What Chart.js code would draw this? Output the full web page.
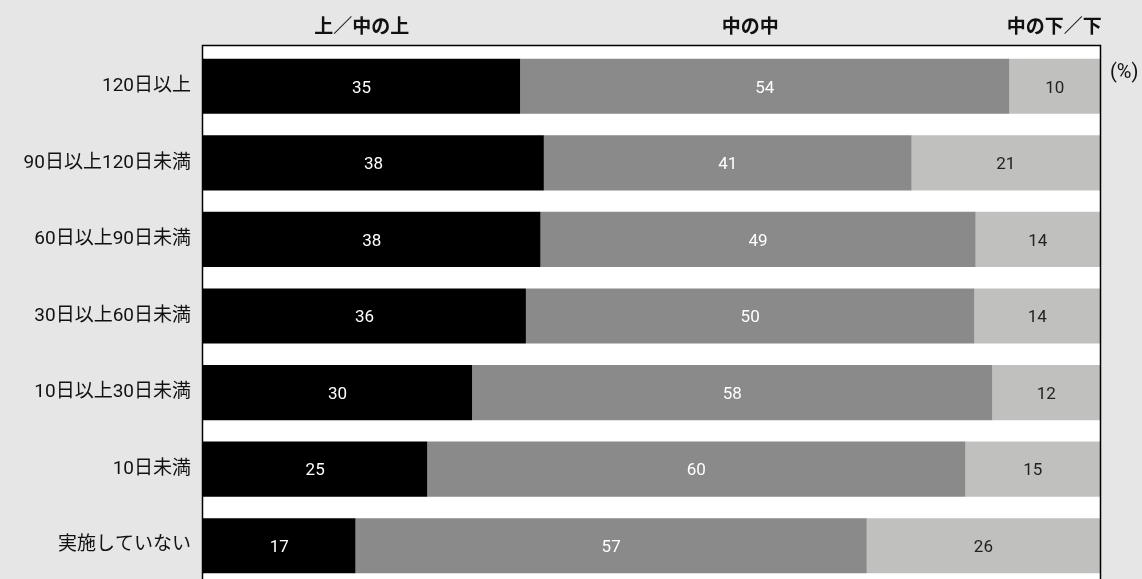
<!DOCTYPE html>
<html>
<head>
<meta charset="utf-8">
<script src="https://cdn.jsdelivr.net/npm/chart.js@4/dist/chart.umd.min.js"></script>
<style>
  html, body { margin: 0; padding: 0; background: #e6e6e6; overflow: hidden; }
  canvas { display: block; }
</style>
</head>
<body>
<canvas id="myChart" width="1142" height="590"></canvas>
<script>
// categories and values (in %)
const categories = ['120日以上', '90日以上120日未満', '60日以上90日未満', '30日以上60日未満', '10日以上30日未満', '10日未満', '実施していない'];
const seriesNames = ['上／中の上', '中の中', '中の下／下'];
const upper = [35, 38, 38, 36, 30, 25, 17];
const middle = [54, 41, 49, 50, 58, 60, 57];
const lower = [10, 21, 14, 14, 12, 15, 26];
// where the series headers sit along the x axis (%)
const headerPos = [17.7, 61, 94.9];

const FONT = "Roboto, 'Noto Sans CJK JP', sans-serif";
const colors = ['#000000', '#8a8a8a', '#c0c1bf'];
const labelColors = ['#ffffff', '#ffffff', '#222222'];
const raw = [upper, middle, lower];

// bars are stretched to 100% of each row
const totals = categories.map((c, i) => upper[i] + middle[i] + lower[i]);
const share = arr => arr.map((v, i) => v / totals[i] * 100);

// white plot background with black frame
const frame = {
  id: 'frame',
  beforeDraw(chart) {
    const { ctx, chartArea: a } = chart;
    ctx.save();
    ctx.fillStyle = '#ffffff';
    ctx.fillRect(a.left, a.top - 2, a.right - a.left, a.bottom - a.top + 10);
    ctx.restore();
  },
  afterDraw(chart) {
    const { ctx, chartArea: a, scales } = chart;
    ctx.save();
    ctx.strokeStyle = '#000000';
    ctx.lineWidth = 1.5;
    ctx.strokeRect(a.left - 0.5, a.top - 2.5, a.right - a.left + 1, a.bottom - a.top + 20);
    // series headers
    ctx.fillStyle = '#111111';
    ctx.font = 'bold 19px ' + FONT;
    ctx.textAlign = 'center';
    ctx.textBaseline = 'middle';
    seriesNames.forEach((name, i) => {
      ctx.fillText(name, scales.x.getPixelForValue(headerPos[i]), 28);
    });
    ctx.font = '20px ' + FONT;
    ctx.textAlign = 'left';
    ctx.fillText('(%)', a.right + 10, 73);
    ctx.restore();
  }
};

// value labels in the middle of each segment
const valueLabels = {
  id: 'valueLabels',
  afterDatasetsDraw(chart) {
    const { ctx } = chart;
    ctx.save();
    ctx.font = '17px ' + FONT;
    ctx.textAlign = 'center';
    ctx.textBaseline = 'middle';
    chart.data.datasets.forEach((ds, d) => {
      chart.getDatasetMeta(d).data.forEach((bar, i) => {
        const cx = (bar.x + bar.base) / 2;
        ctx.fillStyle = labelColors[d];
        ctx.fillText(String(raw[d][i]), cx, bar.y + 2);
      });
    });
    ctx.restore();
  }
};

const ctx = document.getElementById('myChart').getContext('2d');

new Chart(ctx, {
  type: 'bar',
  data: {
    labels: categories,
    datasets: seriesNames.map((name, i) => ({
      label: name,
      data: share(raw[i]),
      backgroundColor: colors[i],
      borderWidth: 0,
      barPercentage: 0.72,
      categoryPercentage: 1
    }))
  },
  options: {
    indexAxis: 'y',
    responsive: false,
    animation: false,
    layout: { padding: { top: 48, right: 42, bottom: 6, left: 0 } },
    plugins: {
      legend: { display: false },
      tooltip: { enabled: false }
    },
    scales: {
      x: {
        stacked: true,
        min: 0,
        max: 100,
        display: false
      },
      y: {
        stacked: true,
        grid: { display: false },
        border: { display: false },
        afterFit(scale) {
          scale.width = 203;
          scale.paddingTop = 0;
          scale.paddingBottom = 0;
        },
        ticks: {
          color: '#111111',
          padding: 4,
          font: { family: FONT, size: 19 }
        }
      }
    }
  },
  plugins: [frame, valueLabels]
});
</script>
</body>
</html>
